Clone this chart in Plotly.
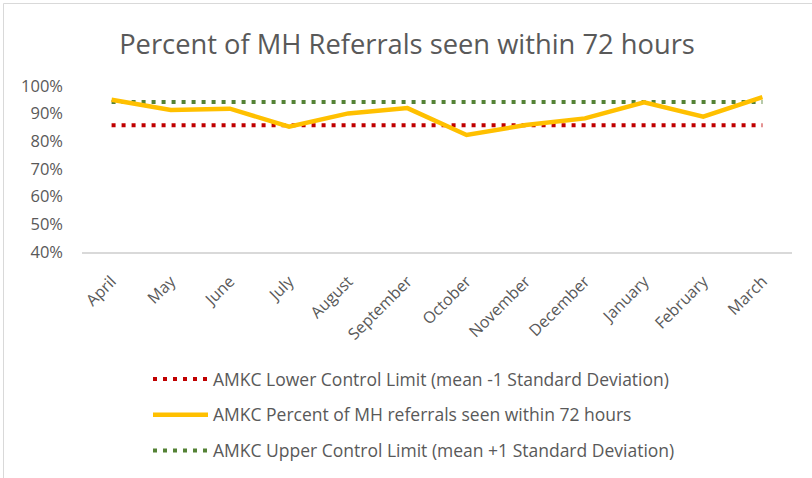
import plotly.graph_objects as go

months = ["April", "May", "June", "July", "August", "September", "October",
          "November", "December", "January", "February", "March"]
percent_seen = [0.950, 0.913, 0.918, 0.853, 0.901, 0.920, 0.823, 0.859, 0.883, 0.941, 0.889, 0.960]
lower_limit = [0.858] * 12
upper_limit = [0.942] * 12

W, H = 812, 478
L, R, T, B = 82, 20, 86, 226
pw, ph = W - L - R, H - T - B

def px_x(x):
    return (x - L) / pw

def px_y(y):
    return (H - B - y) / ph

fig = go.Figure()
fig.add_trace(go.Scatter(
    x=months, y=lower_limit, mode="lines",
    name="AMKC Lower Control Limit (mean -1 Standard Deviation)",
    line=dict(color="#C00000", width=4, dash="4px,6px"),
    legendgroup="a", legendrank=1,
))
fig.add_trace(go.Scatter(
    x=months, y=upper_limit, mode="lines",
    name="AMKC Upper Control Limit (mean +1 Standard Deviation)",
    line=dict(color="#548235", width=4, dash="4px,6px"),
    legendgroup="c", legendrank=3,
))
fig.add_trace(go.Scatter(
    x=months, y=percent_seen, mode="lines",
    name="AMKC Percent of MH referrals seen within 72 hours",
    line=dict(color="#FFC000", width=4.5),
    legendgroup="b", legendrank=2,
))

font = "'Open Sans', sans-serif"
border = dict(color="#D9D9D9", width=1)
fig.update_layout(
    width=W, height=H,
    margin=dict(l=L, r=R, t=T, b=B, autoexpand=False),
    paper_bgcolor="white", plot_bgcolor="white",
    title=dict(text="Percent of MH Referrals seen within 72 hours",
               x=px_x(407), xref="paper", xanchor="center",
               y=1 - 44 / H, yref="container", yanchor="middle",
               font=dict(family=font, size=27.3, color="#595959")),
    font=dict(family=font, color="#595959", size=15),
    xaxis=dict(range=[-0.5, 11.5], tickangle=-45, showgrid=False,
               showline=True, linecolor="#D9D9D9", linewidth=1.5,
               ticks="", ticklabelstandoff=12, automargin=False,
               tickfont=dict(size=16, color="#595959")),
    yaxis=dict(range=[0.4, 1.0], tickformat=".0%", dtick=0.1,
               showgrid=False, zeroline=False, showline=False,
               ticks="", ticklabelstandoff=18, automargin=False,
               tickfont=dict(size=16.5, color="#595959")),
    showlegend=True,
    legend=dict(x=148 / W, y=1 - 361 / H, xref="container", yref="container",
                xanchor="left", yanchor="top",
                tracegroupgap=10, itemwidth=55,
                font=dict(size=17.5, color="#595959"),
                bgcolor="rgba(0,0,0,0)"),
    shapes=[
        dict(type="line", xref="paper", yref="paper",
             x0=px_x(3.5), x1=px_x(3.5), y0=px_y(3.5), y1=px_y(H),
             line=border, layer="below"),
        dict(type="line", xref="paper", yref="paper",
             x0=px_x(3.5), x1=px_x(W), y0=px_y(3.5), y1=px_y(3.5),
             line=border, layer="below"),
    ],
)

fig.write_html("out.html", config={"displayModeBar": False},
               post_script="document.body.style.margin='0';document.body.style.overflow='hidden';")
